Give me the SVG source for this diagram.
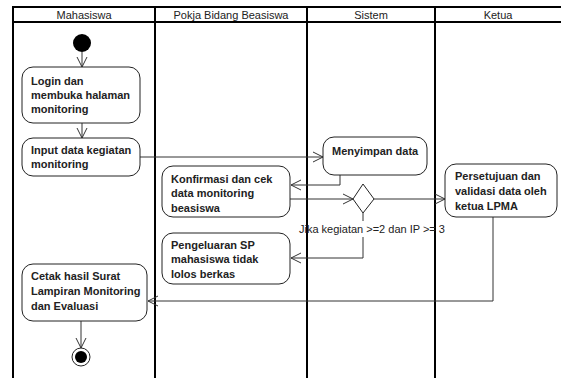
<svg xmlns="http://www.w3.org/2000/svg" width="561" height="378" viewBox="0 0 561 378">
<style>
.lane{stroke:#000;stroke-width:2;fill:none}
.hdr{font-family:"Liberation Sans",Arial,sans-serif;font-size:11px;fill:#222;text-anchor:middle}
.box{fill:#fff;stroke:#222;stroke-width:1}
.t{font-family:"Liberation Sans",Arial,sans-serif;font-size:11px;font-weight:bold;fill:#222}
.flow{fill:none;stroke:#333;stroke-width:1}
.lbl{font-family:"Liberation Sans",Arial,sans-serif;font-size:11px;fill:#222}
</style>
<defs>
<marker id="arr" markerUnits="userSpaceOnUse" markerWidth="12" markerHeight="12" viewBox="0 0 12 12" refX="11" refY="6" orient="auto">
<path d="M1,1 L11,6 L1,11" fill="none" stroke="#333" stroke-width="1"/>
</marker>
</defs>
<rect width="561" height="378" fill="#fff"/>
<g id="lanes">
<path class="lane" d="M13,378 V7 H561 M13,22 H561 M155,7 V378 M307,7 V378 M435,7 V378"/>
<text class="hdr" x="84" y="19">Mahasiswa</text>
<text class="hdr" x="231" y="19">Pokja Bidang Beasiswa</text>
<text class="hdr" x="371" y="19">Sistem</text>
<text class="hdr" x="498" y="19">Ketua</text>
</g>
<g id="connectors">
<path class="flow" d="M82,52 V67" marker-end="url(#arr)"/>
<path class="flow" d="M82,123 V138" marker-end="url(#arr)"/>
<path class="flow" d="M140,157 H323" marker-end="url(#arr)"/>
<path class="flow" d="M340,175 V185 H291" marker-end="url(#arr)"/>
<path class="flow" d="M290,199 H353" marker-end="url(#arr)"/>
<path class="flow" d="M374,199 H445" marker-end="url(#arr)"/>
<path class="flow" d="M363,213 V221"/>
<path class="flow" d="M363,237 V258 H291" marker-end="url(#arr)"/>
<path class="flow" d="M493,217 V301 H148" marker-end="url(#arr)"/>
<path class="flow" d="M81,321 V348" marker-end="url(#arr)"/>
<text class="lbl" x="299" y="233">Jika kegiatan &gt;=2 dan IP &gt;= 3</text>
</g>
<g id="start">
<circle cx="82" cy="43" r="9" fill="#000"/>
</g>
<g id="login">
<rect class="box" x="22" y="67" width="118" height="56" rx="11"/>
<text class="t" x="31" y="85">Login dan</text>
<text class="t" x="31" y="99">membuka halaman</text>
<text class="t" x="31" y="113">monitoring</text>
</g>
<g id="input">
<rect class="box" x="22" y="138" width="118" height="38" rx="11"/>
<text class="t" x="31" y="154">Input data kegiatan</text>
<text class="t" x="31" y="168">monitoring</text>
</g>
<g id="menyimpan">
<rect class="box" x="323" y="137" width="104" height="38" rx="11"/>
<text class="t" x="332" y="155">Menyimpan data</text>
</g>
<g id="konfirmasi">
<rect class="box" x="162" y="166" width="128" height="51" rx="11"/>
<text class="t" x="171" y="183">Konfirmasi dan cek</text>
<text class="t" x="171" y="197">data monitoring</text>
<text class="t" x="171" y="212">beasiswa</text>
</g>
<g id="decision">
<polygon class="box" points="363,184 374,199 363,213 353,199"/>
</g>
<g id="persetujuan">
<rect class="box" x="445" y="164" width="112" height="53" rx="11"/>
<text class="t" x="455" y="180">Persetujuan dan</text>
<text class="t" x="455" y="195">validasi data oleh</text>
<text class="t" x="455" y="210">ketua LPMA</text>
</g>
<g id="pengeluaran">
<rect class="box" x="162" y="233" width="128" height="51" rx="11"/>
<text class="t" x="171" y="249">Pengeluaran SP</text>
<text class="t" x="171" y="263">mahasiswa tidak</text>
<text class="t" x="171" y="278">lolos berkas</text>
</g>
<g id="cetak">
<rect class="box" x="22" y="264" width="125" height="57" rx="11"/>
<text class="t" x="31" y="280">Cetak hasil Surat</text>
<text class="t" x="31" y="295">Lampiran Monitoring</text>
<text class="t" x="31" y="310">dan Evaluasi</text>
</g>
<g id="end">
<circle cx="81" cy="357" r="9" fill="#fff" stroke="#222" stroke-width="1"/>
<circle cx="81" cy="357" r="6" fill="#000"/>
</g>
</svg>
